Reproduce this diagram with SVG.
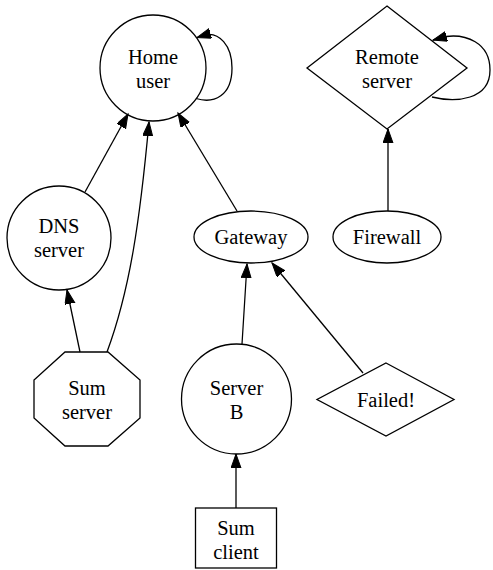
<svg xmlns="http://www.w3.org/2000/svg" width="493" height="570" viewBox="0 0 493 570">
<style>
.n{fill:none;stroke:#000;stroke-width:1.3}
.t{font-family:'Liberation Serif','DejaVu Serif',serif;font-size:20.5px;text-anchor:middle;fill:#000}
.e{fill:none;stroke:#000;stroke-width:1.3}
</style>
<defs>
<marker id="ah" markerUnits="userSpaceOnUse" markerWidth="16" markerHeight="12" refX="14" refY="5" orient="auto">
<path d="M0,0 L14,5 L0,10 z" fill="#000" stroke="#000" stroke-width="1"/>
</marker>
</defs>
<rect width="493" height="570" fill="#fff"/>
<g id="edges">
<path class="e" d="M196,98.5 C214,104 232,96 232,68 C232,44 218,33 207,34.5 L197,37.5" marker-end="url(#ah)"/>
<path class="e" d="M432,97 C456,103 490,100 490,70 C490,42 465,34 446,36.5 L433,40" marker-end="url(#ah)"/>
<path class="e" d="M85,192 L128,114" marker-end="url(#ah)"/>
<path class="e" d="M107,352 C130,290 140,220 149,122" marker-end="url(#ah)"/>
<path class="e" d="M80,352 L67,290" marker-end="url(#ah)"/>
<path class="e" d="M237,211 L178,113" marker-end="url(#ah)"/>
<path class="e" d="M242,344 L247,264" marker-end="url(#ah)"/>
<path class="e" d="M363,373 L272,263" marker-end="url(#ah)"/>
<path class="e" d="M236,508 L236,454" marker-end="url(#ah)"/>
<path class="e" d="M388,211 L388,129" marker-end="url(#ah)"/>
</g>
<g font-family="Liberation Serif, serif">
<g id="home_user">
<circle class="n" cx="153" cy="68" r="53"/>
<text class="t" x="153" y="64">Home</text>
<text class="t" x="153" y="88">user</text>
</g>
<g id="remote_server">
<polygon class="n" points="387,6 467,68 387,129 307,68"/>
<text class="t" x="387" y="64">Remote</text>
<text class="t" x="387" y="88">server</text>
</g>
<g id="dns_server">
<circle class="n" cx="59" cy="238" r="52"/>
<text class="t" x="59" y="233">DNS</text>
<text class="t" x="59" y="257">server</text>
</g>
<g id="gateway">
<ellipse class="n" cx="251" cy="237" rx="57" ry="26"/>
<text class="t" x="251" y="244">Gateway</text>
</g>
<g id="firewall">
<ellipse class="n" cx="387" cy="237" rx="54" ry="26"/>
<text class="t" x="387" y="244">Firewall</text>
</g>
<g id="sum_server">
<polygon class="n" points="65,352 108,352 140,380 140,418 108,446 65,446 34,418 34,380"/>
<text class="t" x="87" y="395">Sum</text>
<text class="t" x="87" y="419">server</text>
</g>
<g id="server_b">
<circle class="n" cx="236.5" cy="399" r="55"/>
<text class="t" x="236.5" y="395">Server</text>
<text class="t" x="236.5" y="419">B</text>
</g>
<g id="failed">
<polygon class="n" points="386,363 454,399.5 386,436 317,399.5"/>
<text class="t" x="386" y="407">Failed!</text>
</g>
<g id="sum_client">
<rect class="n" x="195.5" y="508" width="81" height="60"/>
<text class="t" x="236" y="535">Sum</text>
<text class="t" x="236" y="559">client</text>
</g>
</g>
</svg>
